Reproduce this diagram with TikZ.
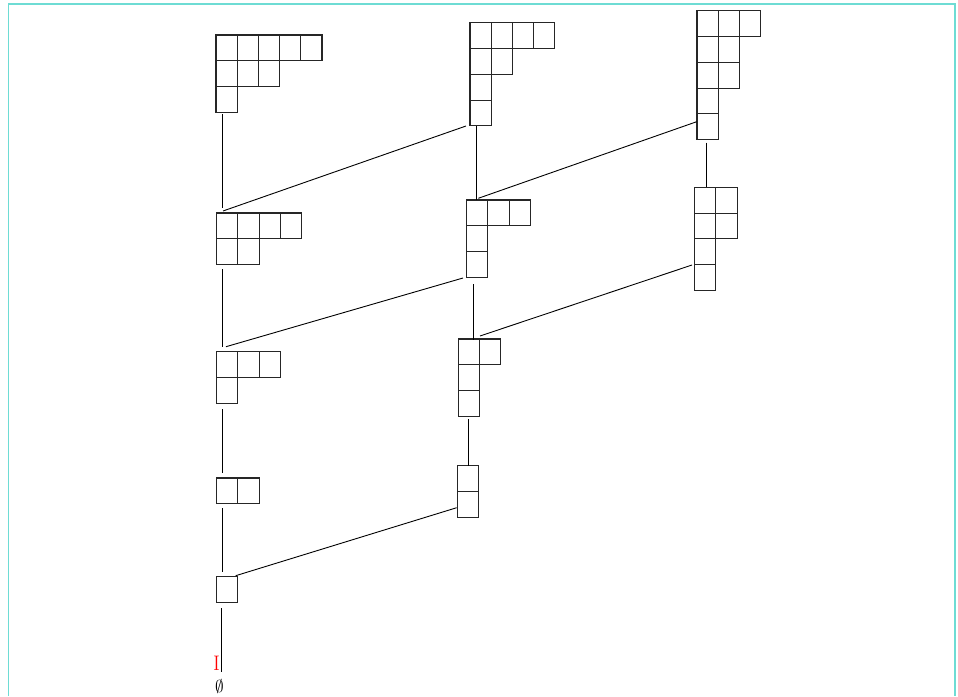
\documentclass[tikz,border=0pt]{standalone}
\begin{document}
\begin{tikzpicture}[x=1pt,y=-1pt,
  cell/.style={draw=black!85,line width=1.1pt},
  edge/.style={draw=black,line width=0.9pt},
  frameline/.style={draw=framecol,line width=1.6pt}]
\definecolor{framecol}{RGB}{110,220,212}
\useasboundingbox (0,0) rectangle (958,696);
\fill[white] (0,0) rectangle (958,696);
\draw[frameline] (8.5,696) -- (8.5,4) -- (955,4) -- (955,696);
\def\cw{21.2}\def\ch{25.8}
\newcommand\ydiag[3]{\foreach \yn [count=\yr] in {#3} {\foreach \yc in {1,...,\yn} {\draw[cell] ({#1+(\yc-1)*\cw},{#2+(\yr-1)*\ch}) rectangle ++(\cw,\ch);}}}
% diagrams
\ydiag{216}{35}{5,3,1}
\ydiag{470}{22.7}{4,2,1,1}
\ydiag{697}{10.7}{3,2,2,1,1}
\ydiag{216.7}{213}{4,2}
\ydiag{466.7}{200}{3,1,1}
\ydiag{694.7}{187.3}{2,2,1,1}
\ydiag{216.7}{351.7}{3,1}
\ydiag{458.3}{339}{2,1,1}
\ydiag{216.7}{478}{2}
\ydiag{457.3}{465.7}{1,1}
\ydiag{216.7}{576.5}{1}
% attach points
\coordinate (s1b) at (222.5,114);
\coordinate (s4t) at (222.5,208);
\coordinate (s4tr) at (223,211);
\coordinate (s2bl) at (466,126);
\coordinate (s2b) at (476,126);
\coordinate (s5t) at (476,200);
\coordinate (s5tr) at (478.3,198.3);
\coordinate (s3l) at (696.7,121.7);
\coordinate (s3b) at (706.7,142.5);
\coordinate (s6t) at (706.7,187.3);
\coordinate (s4b) at (222.5,269);
\coordinate (s7t) at (222.5,347);
\coordinate (s7tr) at (226,346.7);
\coordinate (s5bl) at (463,278);
\coordinate (s5b) at (473.3,284);
\coordinate (s8t) at (473.3,340);
\coordinate (s8tr) at (480,336);
\coordinate (s6l) at (692,265);
\coordinate (s7b) at (222.5,409);
\coordinate (s9t) at (222.5,473);
\coordinate (s8b) at (468.5,419.3);
\coordinate (s10t) at (468.5,465.7);
\coordinate (s9b) at (222.5,508);
\coordinate (s11t) at (222.5,572);
\coordinate (s11tr) at (235.7,575.7);
\coordinate (s10bl) at (456.7,507.7);
\coordinate (s11b) at (221.5,608);
\coordinate (e0) at (221.5,672);
% connectors
\draw[edge] (s1b) -- (s4t);
\draw[edge] (s4tr) -- (s2bl);
\draw[edge] (s2b) -- (s5t);
\draw[edge] (s5tr) -- (s3l);
\draw[edge] (s3b) -- (s6t);
\draw[edge] (s4b) -- (s7t);
\draw[edge] (s7tr) -- (s5bl);
\draw[edge] (s5b) -- (s8t);
\draw[edge] (s8tr) -- (s6l);
\draw[edge] (s7b) -- (s9t);
\draw[edge] (s8b) -- (s10t);
\draw[edge] (s9b) -- (s11t);
\draw[edge] (s11tr) -- (s10bl);
\draw[edge] (s11b) -- (e0);
% labels
\node[text=red,inner sep=0pt,font=\fontsize{21}{21}\selectfont] (mark) at (216.5,663.5) {I};
\node[inner sep=0pt,font=\fontsize{18}{18}\selectfont] (empty) at (219.5,686) {$\emptyset$};
\end{tikzpicture}
\end{document}
